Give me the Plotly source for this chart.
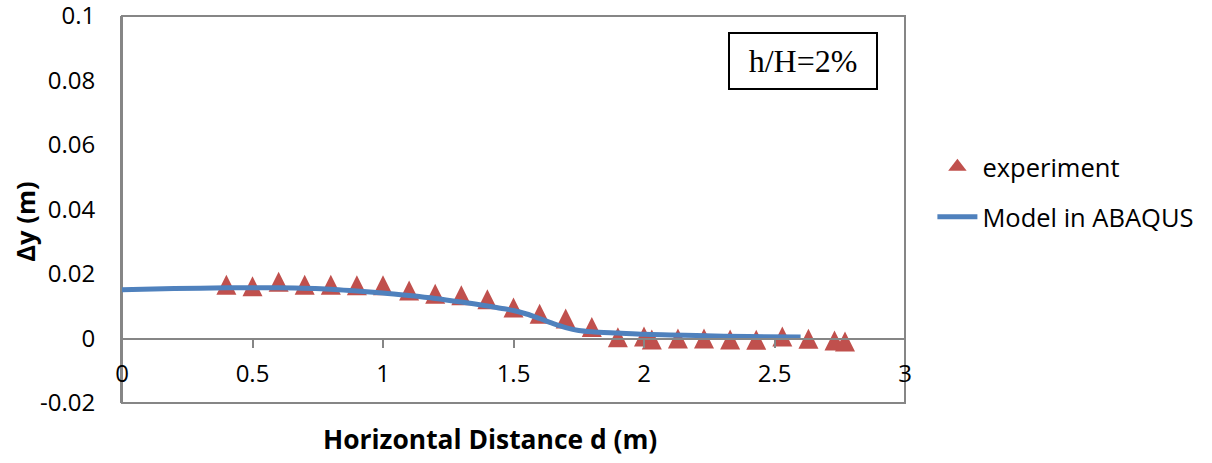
import plotly.graph_objects as go

# Measured settlement (experiment)
exp_x = [0.4, 0.5, 0.6, 0.7, 0.8, 0.9, 1.0, 1.1, 1.2, 1.3, 1.4, 1.5, 1.6, 1.7, 1.8,
         1.9, 2.0, 2.03, 2.13, 2.23, 2.33, 2.43, 2.53, 2.63, 2.73, 2.77]
exp_y = [0.0167, 0.0162, 0.0176, 0.0167, 0.0167, 0.0165, 0.0165, 0.0149, 0.0139,
         0.0134, 0.0122, 0.0096, 0.0077, 0.0062, 0.0036, 0.0004, 0.0006, -0.0003,
         0.0, 0.0, -0.0003, -0.0004, 0.0006, -0.0001, -0.0006, -0.0009]

# Numerical model (ABAQUS)
model_x = [0.0, 0.2, 0.4, 0.6, 0.8, 0.9, 1.0, 1.1, 1.2, 1.3, 1.4, 1.45, 1.5, 1.55,
           1.6, 1.65, 1.7, 1.75, 1.8, 1.9, 2.0, 2.1, 2.2, 2.4, 2.6]
model_y = [0.0151, 0.0155, 0.0157, 0.0157, 0.0153, 0.0147, 0.0141, 0.0133, 0.0124,
           0.0113, 0.0101, 0.0094, 0.0087, 0.0076, 0.0062, 0.0047, 0.0034, 0.0025,
           0.0021, 0.0017, 0.0013, 0.0011, 0.0009, 0.0006, 0.0005]

# Axis ticks
x_ticks = [0, 0.5, 1, 1.5, 2, 2.5, 3]
x_tick_text = ["0", "0.5", "1", "1.5", "2", "2.5", "3"]
y_ticks = [-0.02, 0, 0.02, 0.04, 0.06, 0.08, 0.1]
y_tick_text = ["-0.02", "0", "0.02", "0.04", "0.06", "0.08", "0.1"]
x_range = [0, 3]
y_range = [-0.02, 0.1]

FONT = "Open Sans"
AXIS_GRAY = "#868686"
RED = "#C0504D"
BLUE = "#4F81BD"
MARKER_SIZE = 20

# fraction of the plot height where y = 0 (horizontal axis crosses there)
zero_frac = (0 - y_range[0]) / (y_range[1] - y_range[0])

fig = go.Figure()

# Triangles centred on each point: a down-arrow turned upright and pushed back
# by half its height, so it is as tall as it is wide.
fig.add_trace(go.Scatter(
    x=exp_x, y=exp_y, mode="markers", name="experiment",
    legendgroup="a", showlegend=False,
    marker=dict(symbol="arrow-down", angle=180, standoff=MARKER_SIZE / 2,
                size=MARKER_SIZE, color=RED, line=dict(width=0)),
))
# legend entry for the experiment series
fig.add_trace(go.Scatter(
    x=[None], y=[None], mode="markers", name="experiment",
    legendgroup="a", showlegend=True,
    marker=dict(symbol="triangle-up", size=16, color=RED, line=dict(width=0)),
))

fig.add_trace(go.Scatter(
    x=model_x, y=model_y, mode="lines", name="Model in ABAQUS",
    legendgroup="b",
    line=dict(color=BLUE, width=5, shape="spline", smoothing=0.8),
))

tick_font = dict(family=FONT, size=24, color="#000000")

fig.update_layout(
    width=1212, height=463,
    margin=dict(l=122, r=307, t=16, b=60, autoexpand=False),
    paper_bgcolor="white", plot_bgcolor="white",
    showlegend=True,
    legend=dict(
        x=1.035, y=0.545, xanchor="left", yanchor="middle",
        font=dict(family=FONT, size=25.5, color="#000000"),
        tracegroupgap=14, bgcolor="rgba(0,0,0,0)", itemwidth=40,
    ),
    xaxis=dict(
        range=x_range, anchor="free", position=zero_frac, automargin=False,
        showline=True, linecolor=AXIS_GRAY, linewidth=2,
        ticks="outside", ticklen=8, tickwidth=2, tickcolor=AXIS_GRAY,
        tickvals=x_ticks, ticktext=x_tick_text, tickfont=tick_font,
        ticklabelstandoff=6,
        showgrid=False, zeroline=False,
    ),
    xaxis2=dict(
        range=x_range, overlaying="x", anchor="free", position=zero_frac,
        automargin=False,
        showline=False, ticks="inside", ticklen=8, tickwidth=2,
        tickcolor=AXIS_GRAY, tickvals=x_ticks, showticklabels=False,
        showgrid=False, zeroline=False,
    ),
    yaxis=dict(
        range=y_range, domain=[0, 1], automargin=False,
        showline=True, linecolor=AXIS_GRAY, linewidth=2,
        ticks="", tickvals=y_ticks, ticktext=y_tick_text, tickfont=tick_font,
        ticklabelstandoff=20, ticklabeloverflow="allow",
        showgrid=False, zeroline=False,
    ),
    shapes=[dict(
        type="rect", xref="x domain", yref="y domain", x0=0, x1=1, y0=0, y1=1,
        line=dict(color=AXIS_GRAY, width=2), fillcolor="rgba(0,0,0,0)",
        layer="below",
    )],
    annotations=[
        dict(
            text="h/H=2%", xref="paper", yref="paper", x=0.8697, y=0.884,
            xanchor="center", yanchor="middle", showarrow=False,
            font=dict(family="Liberation Serif", size=32, color="#000000"),
            bordercolor="#000000", borderwidth=2, borderpad=0,
            width=146, height=54, bgcolor="white",
        ),
        dict(
            text="<b>Horizontal Distance d (m)</b>", xref="paper", yref="paper",
            x=0.470, y=-0.094, xanchor="center", yanchor="middle",
            showarrow=False, font=dict(family=FONT, size=26.4, color="#000000"),
        ),
        dict(
            text="<b>Δy (m)</b>", xref="paper", yref="paper",
            x=-0.1239, y=0.4685, xanchor="center", yanchor="middle",
            textangle=-90, showarrow=False,
            font=dict(family=FONT, size=25.5, color="#000000"),
        ),
    ],
)

fig.write_html("out.html")
